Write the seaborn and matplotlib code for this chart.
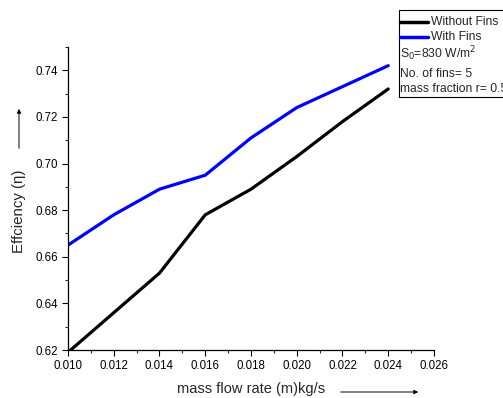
import matplotlib
matplotlib.use("Agg")
import matplotlib.pyplot as plt
import seaborn as sns
import pandas as pd
from matplotlib.lines import Line2D
from matplotlib.patches import Rectangle, FancyArrowPatch
from matplotlib.ticker import MultipleLocator, FormatStrFormatter

flow = [0.010, 0.012, 0.014, 0.016, 0.018, 0.020, 0.022, 0.024]
without_fins = [0.619, 0.636, 0.653, 0.678, 0.689, 0.703, 0.718, 0.732]
with_fins = [0.665, 0.678, 0.689, 0.695, 0.711, 0.724, 0.733, 0.742]
series_names = ["Without Fins", "With Fins"]
colors = ["black", "#0000ff"]

df = pd.DataFrame({
    "flow": flow * 2,
    "eff": without_fins + with_fins,
    "series": [series_names[0]] * len(flow) + [series_names[1]] * len(flow),
})

sns.set_style("ticks")
plt.rcParams["font.family"] = ["Liberation Sans", "DejaVu Sans"]

fig = plt.figure(figsize=(5.03, 3.98), dpi=100)
ax = fig.add_axes([68 / 503, 48 / 398, (434 - 68) / 503, (350 - 47) / 398])

sns.lineplot(data=df, x="flow", y="eff", hue="series", palette=colors,
             linewidth=2.3, ax=ax, legend=False)

ax.set_xlim(0.010, 0.026)
ax.set_ylim(0.62, 0.75)
ax.xaxis.set_major_locator(MultipleLocator(0.002))
ax.xaxis.set_minor_locator(MultipleLocator(0.001))
ax.yaxis.set_major_locator(MultipleLocator(0.02))
ax.yaxis.set_minor_locator(MultipleLocator(0.01))
ax.xaxis.set_major_formatter(FormatStrFormatter("%.3f"))
ax.yaxis.set_major_formatter(FormatStrFormatter("%.2f"))
ax.tick_params(which="major", direction="out", length=4, width=0.8, labelsize=8.3,
               colors="black", pad=3)
ax.tick_params(which="minor", direction="out", length=2, width=0.8)
for s in ["top", "right"]:
    ax.spines[s].set_visible(False)
for s in ["left", "bottom"]:
    ax.spines[s].set_linewidth(0.9)
    ax.spines[s].set_color("black")
ax.set_xlabel("")
ax.set_ylabel("")

# axis labels with arrows
fig.text(251 / 503, 1 - 389 / 398, "mass flow rate (m)kg/s", ha="center", va="center", fontsize=10.5)
fig.patches.append(FancyArrowPatch((338 / 503, 1 - 392 / 398), (421 / 503, 1 - 392 / 398),
                                   transform=fig.transFigure, arrowstyle="-|>", mutation_scale=6,
                                   color="black", lw=0.7))
fig.text(19 / 503, 1 - 211 / 398, "Effciency (η)", ha="center", va="center", rotation=90, fontsize=10.8)
fig.patches.append(FancyArrowPatch((19 / 503, 1 - 151 / 398), (19 / 503, 1 - 106 / 398),
                                   transform=fig.transFigure, arrowstyle="-|>", mutation_scale=6,
                                   color="black", lw=0.7))

# legend box
bx0, by0, bx1, by1 = 399, 10, 515, 97
fig.patches.append(Rectangle((bx0 / 503, 1 - by1 / 398), (bx1 - bx0) / 503, (by1 - by0) / 398,
                             transform=fig.transFigure, fill=False, edgecolor="black", lw=0.8))
for i, (name, c) in enumerate(zip(series_names, colors)):
    yy = 1 - (22 + i * 15) / 398
    fig.lines.append(Line2D([400 / 503, 428 / 503], [yy, yy], transform=fig.transFigure,
                            color=c, lw=2.5))
    fig.text(431 / 503, yy, name, ha="left", va="center", fontsize=8.7)
fig.text(400 / 503, 1 - 54 / 398, r"S$_0$=830 W/m$^2$", ha="left", va="center", fontsize=8.7)
fig.text(400 / 503, 1 - 74 / 398, "No. of fins= 5", ha="left", va="center", fontsize=8.7)
fig.text(400 / 503, 1 - 89 / 398, "mass fraction r= 0.5", ha="left", va="center", fontsize=8.7)

fig.savefig("out.png", dpi=100)
